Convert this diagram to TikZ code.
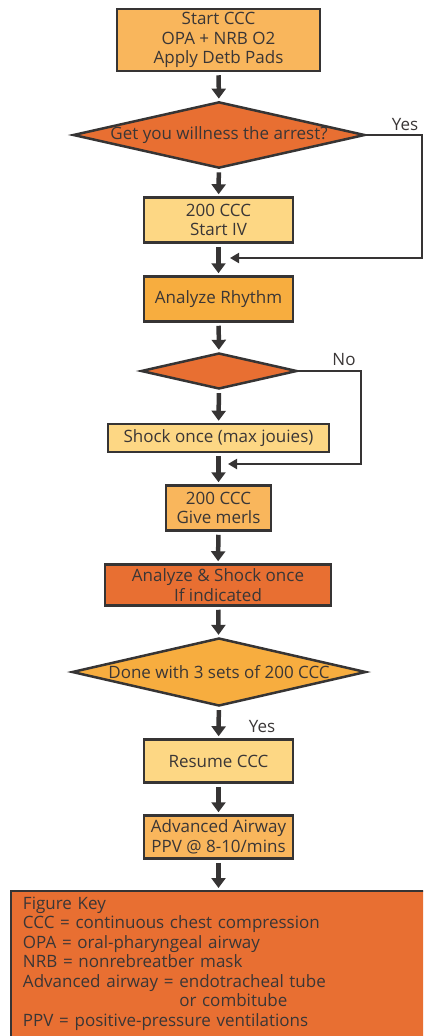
\documentclass[tikz,border=0pt]{standalone}
\usepackage{fontspec}
\setmainfont{Open Sans}
\usetikzlibrary{shapes.geometric,arrows.meta}
\definecolor{edge}{HTML}{363434}
\definecolor{ink}{HTML}{3A3636}
\definecolor{paleorange}{HTML}{F9B65C}
\definecolor{paleyellow}{HTML}{FDD784}
\definecolor{midorange}{HTML}{F7AD3F}
\definecolor{deeporange}{HTML}{E86F32}

\begin{document}
\begin{tikzpicture}[x=1pt,y=-1pt,
    box/.style={draw=edge, line width=2.5pt, text=ink, align=center, inner sep=2pt,
      font=\fontsize{17}{19.5}\selectfont},
    dia/.style={box, diamond, aspect=4.4, inner sep=0pt},
    flow/.style={draw=edge, line width=4.5pt, -{Triangle[length=10pt,width=14pt]},
      shorten <=3pt, shorten >=2pt},
    back/.style={draw=edge, line width=2pt, -{Triangle[length=9pt,width=10pt]}},
    tag/.style={text=ink, font=\fontsize{17}{19.5}\selectfont}]
  \clip (0,0) rectangle (423,1036);
  \node[box, fill=paleorange, minimum width=203pt, minimum height=62pt] (start) at (218.5,40)
    {Start CCC\\OPA + NRB O2\\Apply Detb Pads};
  \node[dia, fill=deeporange, minimum width=290pt, minimum height=66pt] (witness) at (219,135)
    {Get you willness the arrest?};
  \node[box, fill=paleyellow, minimum width=149pt, minimum height=45pt] (iv) at (218.5,220)
    {200 CCC\\Start IV};
  \node[box, fill=midorange, minimum width=149pt, minimum height=45pt] (rhythm) at (218.5,299)
    {Analyze Rhythm};
  \node[dia, fill=deeporange, minimum width=156pt, minimum height=36pt] (check) at (219,371) {};
  \node[box, fill=paleyellow, minimum width=221pt, minimum height=28pt] (shock) at (218.5,438)
    {Shock once (max jouies)};
  \node[box, fill=paleorange, minimum width=105pt, minimum height=45pt] (meds) at (218.5,508)
    {200 CCC\\Give merls};
  \node[box, fill=deeporange, minimum width=226pt, minimum height=41pt] (reshock) at (218,585)
    {Analyze \& Shock once\\If indicated};
  \node[dia, fill=midorange, aspect=4.3, minimum width=294pt, minimum height=68pt] (sets) at (219,672)
    {Done with 3 sets of 200 CCC};
  \node[box, fill=paleyellow, minimum width=149pt, minimum height=43pt] (resume) at (218.5,761)
    {Resume CCC};
  \node[box, fill=paleorange, minimum width=149pt, minimum height=43pt] (airway) at (218.5,837)
    {Advanced Airway\\PPV @ 8-10/mins};
  \node[box, fill=deeporange, line width=2pt, anchor=north west, align=left, inner xsep=12pt,
    inner ysep=6pt, text width=480pt, text depth=180pt] (key) at (10,890)
    {Figure Key\\
     CCC = continuous chest compression\\
     OPA = oral-pharyngeal airway\\
     NRB = nonrebreatber mask\\
     Advanced airway = endotracheal tube\\
     \phantom{Advanced airway = }or combitube\\
     PPV = positive-pressure ventilations};

  \draw[flow] (start) -- (witness);
  \draw[flow] (witness) -- (iv);
  \draw[flow] (iv) -- (rhythm);
  \draw[flow] (rhythm) -- (check);
  \draw[flow] (check) -- (shock);
  \draw[flow] (shock) -- (meds);
  \draw[flow] (meds) -- (reshock);
  \draw[flow] (reshock) -- (sets);
  \draw[flow] (sets) -- (resume);
  \draw[flow] (resume) -- (airway);
  \draw[flow] (airway.south) -- (airway.south |- key.north);

  \coordinate (join1) at (230,258);
  \coordinate (join2) at (228,464);
  \draw[back] (witness.east) -- ++(56,0) |- (join1);
  \draw[back] (check.east) -- ++(63,0) |- (join2);
  \node[tag] (yes1) at (405,125) {Yes};
  \node[tag] (no1) at (344,360) {No};
  \node[tag] (yes2) at (262,727) {Yes};
\end{tikzpicture}
\end{document}
